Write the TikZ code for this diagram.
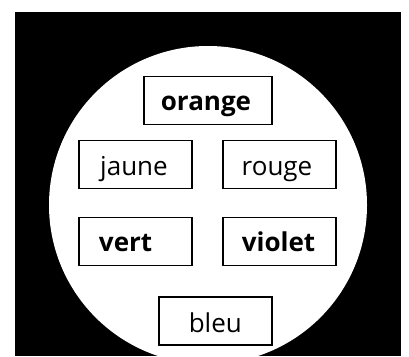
\documentclass[tikz,border=0pt]{standalone}
\usepackage{fontspec}
\setmainfont{Open Sans}
\begin{document}
\begin{tikzpicture}[x=1pt,y=-1pt,
  box/.style={draw=black, line width=1.8pt, fill=white, inner sep=0pt},
  lbl/.style={anchor=base, inner sep=0pt, font=\fontsize{26}{30}\selectfont},
  lblb/.style={lbl, font=\fontsize{26}{30}\selectfont\bfseries}]
\useasboundingbox (0,0) rectangle (409,356);
\fill[white] (0,0) rectangle (409,356);
\fill[black] (15,12) rectangle (401,356);
% white disc, cut off by the bottom edge of the black panel
\begin{scope}
  \clip (15,12) rectangle (401,356);
  \fill[white] (208,205) circle[radius=159];
\end{scope}
% boxes
\node[box, minimum width=128pt, minimum height=48pt] (orange) at (208,100.5) {};
\node[box, minimum width=113pt, minimum height=48pt] (jaune) at (135.7,164.5) {};
\node[box, minimum width=113pt, minimum height=48pt] (rouge) at (279.7,164.5) {};
\node[box, minimum width=113pt, minimum height=48pt] (vert) at (135.7,241.5) {};
\node[box, minimum width=113pt, minimum height=48pt] (violet) at (279.7,241.5) {};
\node[box, minimum width=113pt, minimum height=48pt] (bleu) at (215.8,321.2) {};
% labels
\node[lblb] (orange-t) at (206,110) {orange};
\node[lbl] (jaune-t) at (134,175) {jaune};
\node[lbl] (rouge-t) at (277,175) {rouge};
\node[lblb] (vert-t) at (125.6,251) {vert};
\node[lblb] (violet-t) at (278.5,251) {violet};
\node[lbl] (bleu-t) at (215.3,332) {bleu};
\end{tikzpicture}
\end{document}
